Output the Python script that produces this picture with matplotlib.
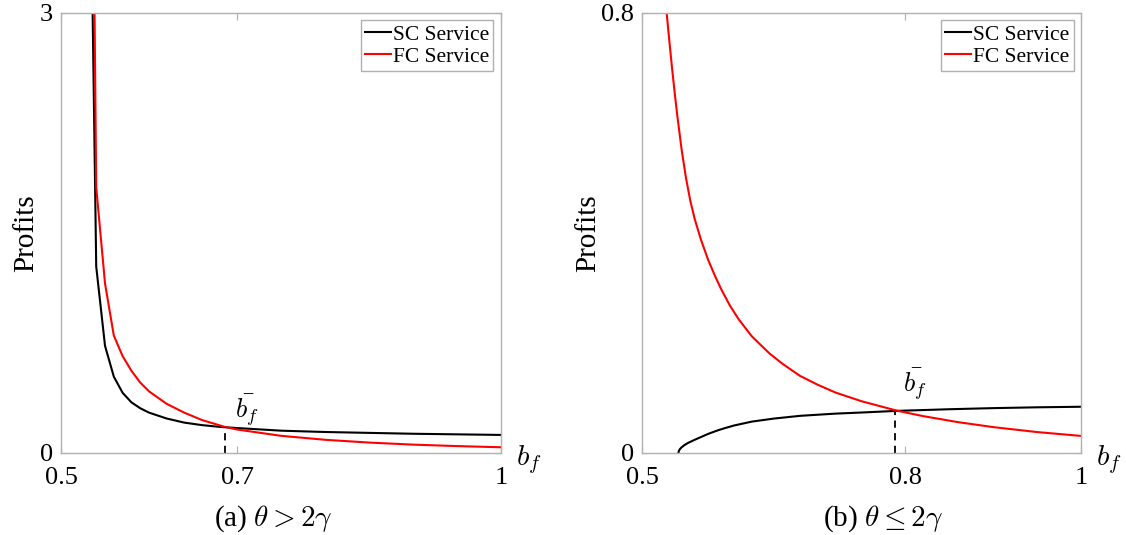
import numpy as np
import matplotlib
matplotlib.use("Agg")
import matplotlib.pyplot as plt

plt.rcParams['font.family'] = ['Liberation Serif', 'DejaVu Serif']
plt.rcParams['mathtext.fontset'] = 'cm'

# (a) theta > 2 gamma
a_sc_x = [0.53, 0.54, 0.55, 0.56, 0.57, 0.58, 0.59, 0.60, 0.62, 0.64, 0.66, 0.68, 0.70, 0.75, 0.80, 0.85, 0.90, 0.95, 1.0]
a_sc_y = [5.5, 1.27, 0.73, 0.52, 0.41, 0.345, 0.305, 0.275, 0.235, 0.207, 0.19, 0.178, 0.17, 0.152, 0.143, 0.137, 0.131, 0.127, 0.123]
a_fc_x = [0.53, 0.54, 0.55, 0.56, 0.57, 0.58, 0.59, 0.60, 0.62, 0.64, 0.66, 0.686, 0.70, 0.75, 0.80, 0.85, 0.90, 0.95, 1.0]
a_fc_y = [8.0, 1.81, 1.155, 0.80, 0.66, 0.56, 0.48, 0.42, 0.335, 0.275, 0.225, 0.178, 0.16, 0.117, 0.09, 0.071, 0.057, 0.047, 0.039]
a_cross = (0.686, 0.177)

# (b) theta <= 2 gamma
b_sc_x = [0.5414, 0.542, 0.543, 0.545, 0.548, 0.552, 0.556, 0.56, 0.565, 0.57, 0.575, 0.58, 0.587,
          0.595, 0.605, 0.625, 0.65, 0.68, 0.72, 0.754, 0.79, 0.85, 0.90, 0.95, 1.0]
b_sc_y = [0.0, 0.004, 0.0068, 0.0102, 0.014, 0.018, 0.021, 0.024, 0.0275, 0.031, 0.0345, 0.0375, 0.0415,
          0.0455, 0.05, 0.057, 0.0625, 0.0675, 0.0715, 0.0738, 0.0765, 0.0795, 0.0815, 0.083, 0.084]
b_fc_x = [0.526, 0.528, 0.531, 0.534, 0.537, 0.54, 0.545, 0.55, 0.555, 0.56, 0.567, 0.575, 0.583, 0.59,
          0.60, 0.61, 0.625, 0.645, 0.66, 0.68, 0.70, 0.72, 0.75, 0.79, 0.82, 0.86, 0.90, 0.95, 1.0]
b_fc_y = [0.835, 0.80, 0.75, 0.702, 0.657, 0.615, 0.552, 0.50, 0.458, 0.425, 0.388, 0.352, 0.322, 0.298,
          0.268, 0.243, 0.212, 0.181, 0.162, 0.14, 0.124, 0.11, 0.094, 0.077, 0.067, 0.056, 0.047, 0.038, 0.031]
b_cross = (0.788, 0.0768)

panels = [
    dict(sc=(a_sc_x, a_sc_y), fc=(a_fc_x, a_fc_y), cross=a_cross, ymax=3,
         xticks=[0.5, 0.7, 1], xlabels=['0.5', '0.7', '1'], ylabels=['0', '3'],
         lbl=(0.711, 0.29), caption=r'(a) $\theta > 2\gamma$', cap_x=0.482,
         rect=[0.0542, 0.1533, 0.3907, 0.823]),
    dict(sc=(b_sc_x, b_sc_y), fc=(b_fc_x, b_fc_y), cross=b_cross, ymax=0.8,
         xticks=[0.5, 0.8, 1], xlabels=['0.5', '0.8', '1'], ylabels=['0', '0.8'],
         lbl=(0.811, 0.124), caption=r'(b) $\theta \leq 2\gamma$', cap_x=0.55,
         rect=[0.5702, 0.1533, 0.3899, 0.823]),
]

fig = plt.figure(figsize=(11.26, 5.35), dpi=100)
grey = '#b0b0b0'

for p in panels:
    ax = fig.add_axes(p['rect'])
    ax.plot(*p['sc'], color='black', lw=1.5, label='SC Service')
    ax.plot(*p['fc'], color='red', lw=1.5, label='FC Service')
    cx, cy = p['cross']
    ax.plot([cx, cx], [0, cy], color='black', lw=1.3, ls=(0, (4, 3)))
    ax.set_xlim(0.5, 1)
    ax.set_ylim(0, p['ymax'])
    ax.set_xticks(p['xticks'])
    ax.set_xticklabels(p['xlabels'])
    ax.set_yticks([0, p['ymax']])
    ax.set_yticklabels(p['ylabels'])
    ax.tick_params(direction='in', length=5, width=0.8, color=grey,
                   labelsize=19, top=True, right=True)
    ax.tick_params(axis='x', pad=10)
    ax.tick_params(axis='y', pad=6)
    for s in ax.spines.values():
        s.set_color(grey)
        s.set_linewidth(1.0)
    ax.set_ylabel('Profits', fontsize=21, labelpad=0)
    ax.text(p['lbl'][0], p['lbl'][1], r'$\bar{b_f}$', fontsize=19,
            ha='center', va='center')
    ax.text(1.035, -0.016, r'$b_f$', transform=ax.transAxes, fontsize=21,
            ha='left', va='center')
    ax.text(p['cap_x'], -0.149, p['caption'], transform=ax.transAxes, fontsize=21,
            ha='center', va='center')
    leg = ax.legend(loc='upper right', fontsize=15.5, handlelength=1.2,
                    handletextpad=0.1, borderpad=0.2, labelspacing=0.1,
                    borderaxespad=0.35, fancybox=False, framealpha=1)
    leg.get_frame().set_edgecolor(grey)
    leg.get_frame().set_linewidth(1.0)

fig.savefig('out.png', dpi=100)
